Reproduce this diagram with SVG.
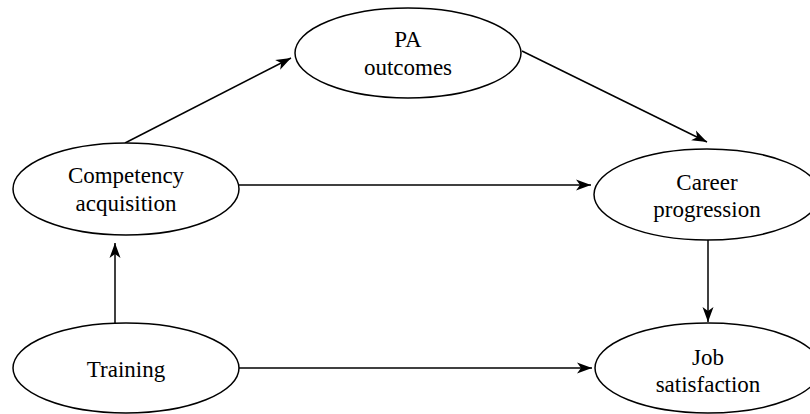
<svg xmlns="http://www.w3.org/2000/svg" width="810" height="414" viewBox="0 0 810 414">
<style>
.node ellipse{fill:#fff;stroke:#000;stroke-width:1.5}
.node text{font-family:"Liberation Serif","Times New Roman",serif;font-size:23px;fill:#000;text-anchor:middle}
.edge{stroke:#000;stroke-width:1.5;fill:none;marker-end:url(#arr)}
</style>
<defs>
<marker id="arr" markerUnits="userSpaceOnUse" markerWidth="16" markerHeight="12" refX="15" refY="6" orient="auto" viewBox="0 0 16 12">
<path d="M0,0.5 L15,6 L0,11.5 L4,6 Z" fill="#000"/>
</marker>
</defs>
<rect width="810" height="414" fill="#fff"/>
<g id="connectors">
<line class="edge" x1="125" y1="143" x2="291" y2="58"/>
<line class="edge" x1="522" y1="51" x2="707" y2="142"/>
<line class="edge" x1="238" y1="185" x2="591" y2="185"/>
<line class="edge" x1="708" y1="239" x2="708" y2="322"/>
<line class="edge" x1="115" y1="323" x2="115" y2="243"/>
<line class="edge" x1="238" y1="368" x2="592" y2="368"/>
</g>
<g id="pa" class="node">
<ellipse cx="408" cy="53" rx="113" ry="45"/>
<text x="408" y="47">PA</text>
<text x="408" y="75">outcomes</text>
</g>
<g id="competency" class="node">
<ellipse cx="126" cy="189" rx="113" ry="46"/>
<text x="126" y="183">Competency</text>
<text x="126" y="211">acquisition</text>
</g>
<g id="career" class="node">
<ellipse cx="707" cy="194.5" rx="113" ry="45.5"/>
<text x="707" y="190">Career</text>
<text x="707" y="217">progression</text>
</g>
<g id="training" class="node">
<ellipse cx="126" cy="368" rx="113" ry="45"/>
<text x="126" y="377">Training</text>
</g>
<g id="job" class="node">
<ellipse cx="708" cy="368" rx="113" ry="45"/>
<text x="708" y="365">Job</text>
<text x="708" y="392">satisfaction</text>
</g>
</svg>
